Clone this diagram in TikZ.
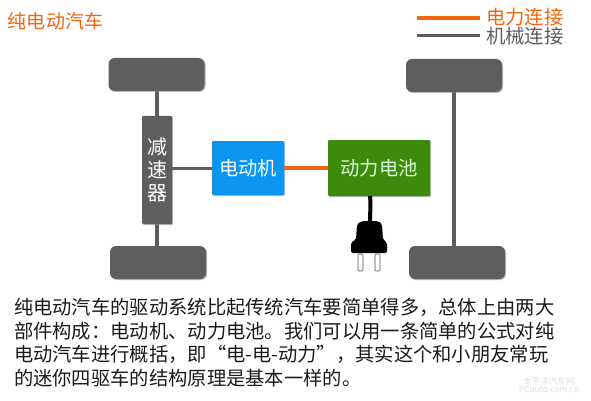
\documentclass[tikz,border=0pt]{standalone}
\usepackage{fontspec}
\setmainfont{Noto Sans CJK SC}
\usepackage{xcolor}
\definecolor{pGray}{HTML}{5F5D5E}
\definecolor{pOrange}{HTML}{F0650E}
\definecolor{pBlue}{HTML}{0A96F0}
\definecolor{pGreen}{HTML}{3E8A0C}
\definecolor{pText}{HTML}{1A1A1A}
\usepackage{tikz}
\usetikzlibrary{
  arrows.meta, positioning, shadows, backgrounds, calc
}

\begin{document}
\begin{tikzpicture}[
  x=1pt, y=-1pt,
  node distance=25pt and 28pt,
  every node/.style={inner sep=0pt, outer sep=0pt},
  softshadow/.style={drop shadow={shadow xshift=1pt, shadow yshift=-1pt, fill=black!45, opacity=0.6}},
  wheel/.style={rectangle, rounded corners=6pt, fill=pGray, softshadow,
                minimum width=96pt, minimum height=33pt},
  reducer/.style={rectangle, rounded corners=1pt, fill=pGray, softshadow, text=white,
                  minimum width=30pt, minimum height=108pt, align=center,
                  font=\fontsize{20}{23}\selectfont},
  motor/.style={rectangle, rounded corners=1pt, fill=pBlue, softshadow, text=white,
                minimum width=72pt, minimum height=54pt, align=center,
                font=\fontsize{19.3}{22}\selectfont},
  battery/.style={rectangle, rounded corners=1pt, fill=pGreen, softshadow, text=white!85!green,
                  minimum width=102pt, minimum height=56pt, align=center,
                  font=\fontsize{19.3}{22}\selectfont},
  legendtext/.style={anchor=west, inner xsep=6pt, font=\fontsize{19.4}{22}\selectfont},
  mech/.style={draw=pGray, line width=4pt},
  elec/.style={draw=pOrange, line width=4pt}
]
\useasboundingbox (0,0) rectangle (591,401);

% drive train
\node[reducer] (rd) at (157,170) {减\\速\\器};
\node[wheel, anchor=south] (wtl) at (156.5,91) {};
\node[wheel, anchor=north] (wbl) at (158,246) {};
\node[motor] (mt) at (248,168) {电动机};
\node[battery, right=44pt of mt] (bt) {动力电池};
\node[wheel, anchor=south] (wtr) at (454,92) {};
\node[wheel, anchor=north] (wbr) at (457,246) {};

\begin{scope}[on background layer]
\draw[mech] (wtl.south -| rd.north) -- (rd.north);
\draw[mech] (rd.south) -- (wbl.north -| rd.south);
\draw[mech] (wtr.south) -- (wbr.north -| wtr.south);
\end{scope}
\draw[draw=pGray, line width=3pt] (rd.east |- mt.west) -- (mt.west);
\draw[elec] (mt) -- (bt);

% plug
\coordinate (plg) at (370,222);
\draw[black, line width=4pt] (bt.south -| plg) .. controls (371,205) and (370,212) .. (plg);
\fill[black, rounded corners=2pt] (356,240) -- (357,224) -- (362,221) -- (378,221)
  -- (382,224) -- (383,240) -- (387,242) -- (387,253) -- (351,253) -- (351,242) -- cycle;
\foreach \i in {358,375}
  \draw[black!70, fill=white, rounded corners=1pt, line width=0.6pt] (\i,254) rectangle ++(5,17);

% title and legend
\node[anchor=west, text=pOrange, font=\fontsize{19}{22}\selectfont] (ttl) at (8,21) {纯电动汽车};
\node[legendtext, text=pOrange] (le) at (480,17) {电力连接};
\node[legendtext, text=pGray] (lm) at (480,36) {机械连接};
\coordinate (les) at (417,18);
\coordinate (lms) at (417,36);
\draw[elec, line width=4.5pt] (les) -- (le.west |- les);
\draw[mech, line width=3pt] (lms) -- (lm.west |- lms);

% explanation
\node[anchor=north west, align=left, text=pText, font=\fontsize{19.3}{23.7}\selectfont] (txt) at (14,298)
  {纯电动汽车的驱动系统比起传统汽车要简单得多，总体上由两大\\
   部件构成：电动机、动力电池。我们可以用一条简单的公式对纯\\
   电动汽车进行概括，即“电-电-动力”，其实这个和小朋友常玩\\
   的迷你四驱车的结构原理是基本一样的。};
\node[anchor=east, align=center, text=black!12, font=\fontsize{8.5}{8}\selectfont] (wm) at (579,385)
  {太平洋汽车网\\PCauto.com.cn};
\end{tikzpicture}
\end{document}
